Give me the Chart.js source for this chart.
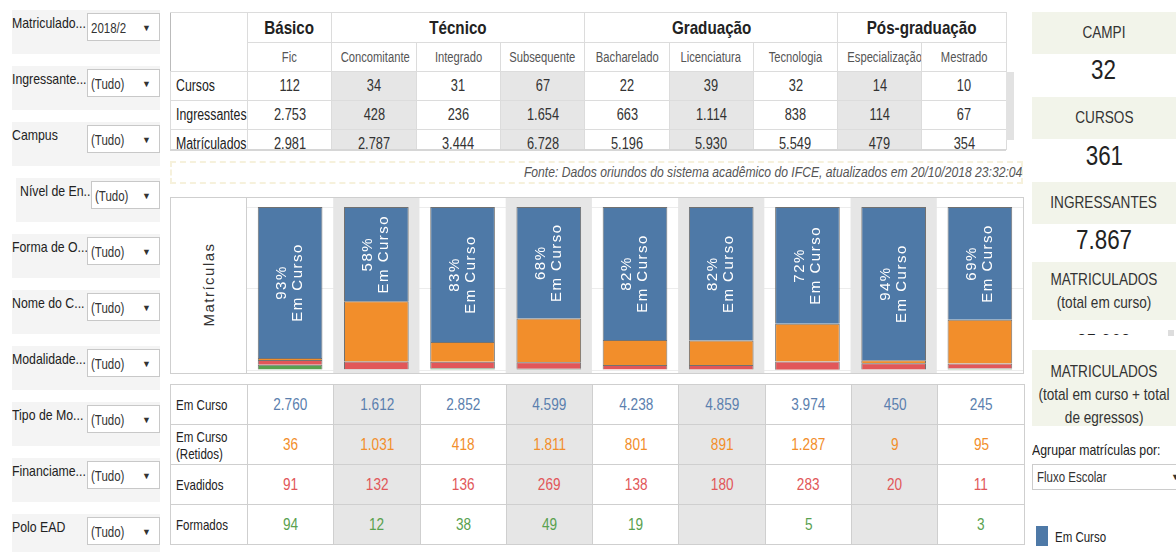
<!DOCTYPE html>
<html>
<head>
<meta charset="utf-8">
<script src="https://cdn.jsdelivr.net/npm/chart.js@4.4.0/dist/chart.umd.min.js"></script>
<style>
  body { margin: 0; width: 1176px; height: 552px; position: relative; overflow: hidden; background: #fff;
         font-family: "Liberation Sans", Arial, sans-serif; color: #333; }
  .nr { display: inline-block; transform: scaleX(0.8); transform-origin: center; white-space: nowrap; }
  .nl { display: inline-block; transform: scaleX(0.82); transform-origin: left center; white-space: nowrap; }
  td.rotulo .nl { transform: scaleX(0.77); }
  .filtro { position: absolute; height: 44px; width: 148px; background: #f4f4f4; }
  .filtro .rot { position: absolute; left: 0; top: 4px; font-size: 15px; color: #222; white-space: nowrap; }
  .filtro .sel { position: absolute; top: 3px; width: 73px; height: 28px; background: #fff;
                 border: 1px solid #c8c8c8; font-size: 14px; line-height: 28px; padding-left: 3px; box-sizing: border-box; }
  .filtro .sel span.seta { position: absolute; right: 8px; top: 0; font-size: 9px; }
  table { border-collapse: collapse; table-layout: fixed; position: absolute; }
  td { border: 1px solid #dcdcdc; text-align: center; padding: 0; overflow: hidden; white-space: nowrap; }
  #tabTopo td { height: 28px; font-size: 16px; }
  #tabTopo tr.n1 td { font-size: 19px; font-weight: bold; color: #222; height: 29px; }
  #tabTopo tr.n2 td { font-size: 14px; color: #555; }
  td.rotulo { text-align: left; padding-left: 5px; font-size: 15px; color: #222; }
  td.cinza { background: #e6e6e6; }
  #tabBaixo td { height: 39px; font-size: 17px; border-color: #cfcfcf; }
  #tabBaixo td.rotulo { font-size: 15px; }
  .kpi { position: absolute; left: 1032px; width: 144px; background: #f2f4ea; text-align: center;
         font-size: 17px; color: #333; }
  .num { position: absolute; left: 1032px; width: 144px; text-align: center; font-size: 28px; color: #222; }
</style>
</head>
<body>

<div id="filtros"></div>

<div style="position:absolute;left:170px;top:12px;width:846px;height:138px;overflow:hidden;">
  <table id="tabTopo" style="left:0;top:0;width:836px;"></table>
  <div style="position:absolute;left:836px;top:60px;width:8px;height:68px;background:#e2e2e2;"></div>
</div>
<div style="position:absolute;left:170px;top:149px;width:836px;height:2px;background:#d6d6d6;"></div>

<div style="position:absolute;left:170px;top:161px;width:853px;height:23px;border:2px dashed #f6f1dc;box-sizing:border-box;"></div>
<div style="position:absolute;left:170px;top:163px;width:852px;text-align:right;font-style:italic;font-size:15px;color:#555;"><span style="display:inline-block;transform:scaleX(0.81);transform-origin:right center;white-space:nowrap;">Fonte: Dados oriundos do sistema acadêmico do IFCE, atualizados em 20/10/2018 23:32:04</span></div>

<div style="position:absolute;left:170px;top:197px;width:854px;height:177px;border:1px solid #cfcfcf;box-sizing:border-box;"></div>
<div style="position:absolute;left:246px;top:197px;width:1px;height:177px;background:#cfcfcf;"></div>
<div style="position:absolute;left:158px;top:276px;width:100px;text-align:center;transform:rotate(-90deg);font-size:15px;letter-spacing:1.5px;color:#333;">Matrículas</div>
<div style="position:absolute;left:247px;top:198px;width:776px;height:175px;">
  <canvas id="grafico"></canvas>
</div>

<table id="tabBaixo" style="left:170px;top:384px;width:854px;"></table>

<div class="kpi" style="top:12px;height:42px;line-height:42px;"><span class="nr">CAMPI</span></div>
<div class="num" style="top:54px;"><span class="nr">32</span></div>
<div class="kpi" style="top:97px;height:42px;line-height:42px;"><span class="nr">CURSOS</span></div>
<div class="num" style="top:140px;"><span class="nr">361</span></div>
<div class="kpi" style="top:182px;height:42px;line-height:42px;"><span class="nr">INGRESSANTES</span></div>
<div class="num" style="top:224px;"><span class="nr">7.867</span></div>
<div class="kpi" style="top:262px;height:58px;line-height:23px;padding-top:6px;box-sizing:border-box;"><span class="nr">MATRICULADOS</span><br><span class="nr">(total em curso)</span></div>
<div style="position:absolute;left:1032px;top:329px;width:144px;height:6px;overflow:hidden;">
  <div class="num" style="left:0;top:0;font-size:22px;"><span class="nr">35.968</span></div>
</div>
<div style="position:absolute;left:1168px;top:330px;width:6px;height:6px;background:#ddd;"></div>
<div class="kpi" style="top:350px;height:76px;line-height:23px;padding-top:10px;box-sizing:border-box;overflow:hidden;"><span class="nr">MATRICULADOS</span><br><span class="nr" style="margin:0 -20px;">(total em curso + total</span><br><span class="nr">de egressos)</span></div>
<div style="position:absolute;left:1032px;top:441px;font-size:15px;color:#222;"><span class="nl">Agrupar matrículas por:</span></div>
<div style="position:absolute;left:1032px;top:464px;width:150px;height:26px;border:1px solid #ccc;box-sizing:border-box;font-size:14px;line-height:24px;padding-left:4px;"><span class="nl">Fluxo Escolar</span><span style="position:absolute;left:138px;font-size:9px;">▼</span></div>
<div style="position:absolute;left:1036px;top:526px;width:12px;height:20px;background:#4e79a7;"></div>
<div style="position:absolute;left:1055px;top:529px;font-size:14px;color:#222;"><span class="nl">Em Curso</span></div>

<script>
// Categorias e níveis de ensino
const niveis = ["Básico", "Técnico", "Graduação", "Pós-graduação"];
const niveisSpan = [1, 3, 3, 2];
const categorias = ["Fic", "Concomitante", "Integrado", "Subsequente", "Bacharelado", "Licenciatura", "Tecnologia", "Especialização", "Mestrado"];

// Tabela de cima
const cursos = [112, 34, 31, 67, 22, 39, 32, 14, 10];
const ingressantes = [2753, 428, 236, 1654, 663, 1114, 838, 114, 67];
const matriculados = [2981, 2787, 3444, 6728, 5196, 5930, 5549, 479, 354];

// Fluxo escolar (tabela de baixo e barras)
const emCurso = [2760, 1612, 2852, 4599, 4238, 4859, 3974, 450, 245];
const retidos = [36, 1031, 418, 1811, 801, 891, 1287, 9, 95];
const evadidos = [91, 132, 136, 269, 138, 180, 283, 20, 11];
const formados = [94, 12, 38, 49, 19, null, 5, null, 3];

// Filtros
const filtrosRotulos = ["Matriculado...", "Ingressante...", "Campus", "Nível de En...", "Forma de O...", "Nome do C...", "Modalidade...", "Tipo de Mo...", "Financiame...", "Polo EAD"];
const filtrosValores = ["2018/2", "(Tudo)", "(Tudo)", "(Tudo)", "(Tudo)", "(Tudo)", "(Tudo)", "(Tudo)", "(Tudo)", "(Tudo)"];

const cores = { emCurso: "#4e79a7", retidos: "#f28e2b", evadidos: "#e15759", formados: "#59a14f" };

function fmt(n) {
  if (n == null) return "";
  return String(n).replace(/\B(?=(\d{3})+(?!\d))/g, ".");
}
const nr = s => `<span class="nr">${s}</span>`;
const nl = s => `<span class="nl">${s}</span>`;

// monta os filtros da esquerda
let htmlFiltros = "";
filtrosRotulos.forEach((r, i) => {
  const topo = 10 + i * 56;
  const esq = i === 3 ? 16 : 12;
  const selEsq = i === 3 ? 91 : 87;
  htmlFiltros += `<div class="filtro" style="left:${esq}px;top:${topo}px;width:${160 - esq}px">
    <div class="rot" style="left:${i === 3 ? 4 : 0}px">${nl(r)}</div>
    <div class="sel" style="left:${selEsq - esq}px;width:${160 - selEsq}px">${nl(filtrosValores[i])}<span class="seta">▼</span></div></div>`;
});
document.getElementById("filtros").innerHTML = htmlFiltros;

// tabela de cima
let t = `<colgroup><col style="width:77px">${categorias.map(() => '<col style="width:84.3px">').join("")}</colgroup>`;
t += `<tr class="n1"><td rowspan="2" style="border-left-color:#bbb"></td>${niveis.map((n, i) => `<td colspan="${niveisSpan[i]}">${nr(n)}</td>`).join("")}</tr>`;
t += `<tr class="n2">${categorias.map(c => `<td>${nr(c)}</td>`).join("")}</tr>`;
[["Cursos", cursos], ["Ingressantes", ingressantes], ["Matrículados", matriculados]].forEach(([rot, arr]) => {
  t += `<tr><td class="rotulo">${nl(rot)}</td>${arr.map((v, i) => `<td class="${i % 2 ? "cinza" : ""}">${nr(fmt(v))}</td>`).join("")}</tr>`;
});
document.getElementById("tabTopo").innerHTML = t;

// tabela de baixo
let b = `<colgroup><col style="width:77px">${categorias.map(() => '<col style="width:86.3px">').join("")}</colgroup>`;
[["Em Curso", emCurso, "#5b7fae"], ["Em Curso<br>(Retidos)", retidos, cores.retidos], ["Evadidos", evadidos, cores.evadidos], ["Formados", formados, cores.formados]].forEach(([rot, arr, cor]) => {
  const rotHtml = rot.split("<br>").map(nl).join("<br>");
  b += `<tr><td class="rotulo" style="line-height:17px">${rotHtml}</td>${arr.map((v, i) => `<td class="${i % 2 ? "cinza" : ""}" style="color:${cor}">${nr(fmt(v))}</td>`).join("")}</tr>`;
});
document.getElementById("tabBaixo").innerHTML = b;

// percentuais para as barras empilhadas (100%)
const total = categorias.map((c, i) => emCurso[i] + retidos[i] + evadidos[i] + (formados[i] || 0));
const pct = arr => arr.map((v, i) => (v == null ? 0 : (v / total[i]) * 100));

// fundo cinza alternado das colunas
const fundoColunas = {
  id: "fundoColunas",
  beforeDatasetsDraw(chart) {
    const { ctx, scales: { x } } = chart;
    const w = x.width / categorias.length;
    ctx.save();
    ctx.fillStyle = "#e6e6e6";
    categorias.forEach((c, i) => {
      if (i % 2 === 1) ctx.fillRect(x.getPixelForValue(i) - w / 2, 0, w, chart.height);
    });
    ctx.restore();
  }
};

// rótulos "xx% Em Curso" girados dentro da barra azul
const rotulosBarras = {
  id: "rotulosBarras",
  afterDatasetsDraw(chart) {
    const { ctx } = chart;
    const meta = chart.getDatasetMeta(3);
    meta.data.forEach((bar, i) => {
      const cy = (bar.y + bar.base) / 2;
      ctx.save();
      ctx.translate(bar.x, cy);
      ctx.rotate(-Math.PI / 2);
      ctx.fillStyle = "#fff";
      ctx.font = '15px "Liberation Sans", Arial, sans-serif';
      ctx.letterSpacing = "1.5px";
      ctx.textAlign = "center";
      ctx.textBaseline = "middle";
      ctx.fillText(Math.round((emCurso[i] / total[i]) * 100) + "%", 0, -8);
      ctx.fillText("Em Curso", 0, 8);
      ctx.restore();
    });
  }
};

const ctx = document.getElementById("grafico").getContext("2d");
const grafico = new Chart(ctx, {
  type: "bar",
  data: {
    labels: categorias,
    datasets: [
      { label: "Formados", data: pct(formados), backgroundColor: cores.formados },
      { label: "Evadidos", data: pct(evadidos), backgroundColor: cores.evadidos },
      { label: "Em Curso (Retidos)", data: pct(retidos), backgroundColor: cores.retidos },
      { label: "Em Curso", data: pct(emCurso), backgroundColor: cores.emCurso }
    ].map(d => Object.assign(d, { borderColor: "rgba(100,100,100,0.9)", borderWidth: 1, barPercentage: 0.75, categoryPercentage: 1 }))
  },
  options: {
    responsive: true,
    maintainAspectRatio: false,
    animation: false,
    layout: { padding: { top: 9, bottom: 3, left: 0, right: 0 } },
    plugins: { legend: { display: false }, tooltip: { enabled: false } },
    scales: {
      x: { stacked: true, display: false },
      y: {
        stacked: true, min: 0, max: 100,
        ticks: { display: false, stepSize: 50 },
        grid: { color: "#ececec", drawTicks: false },
        border: { display: false }
      }
    }
  },
  plugins: [fundoColunas, rotulosBarras]
});
</script>
</body>
</html>
